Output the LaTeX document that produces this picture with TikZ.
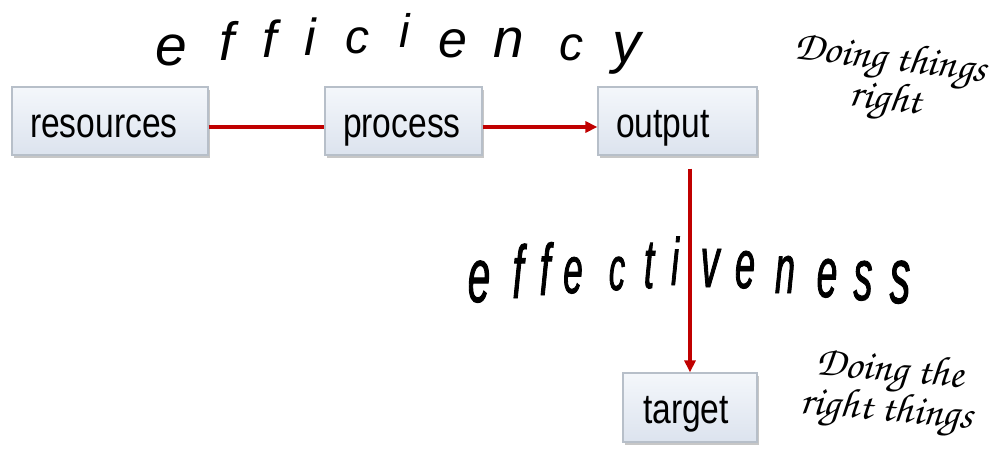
\documentclass[tikz,border=0pt]{standalone}
\usepackage{fontspec}
\setmainfont{Liberation Sans}
\newfontfamily\boxfont[FakeStretch=0.8]{Liberation Sans}
\newfontfamily\effont[FakeStretch=0.52,FakeBold=1.2]{Liberation Sans}
\newfontfamily\efffont{Liberation Sans}
\newfontfamily\chorusfont{TeX Gyre Chorus}
\usetikzlibrary{arrows.meta,shadows}
\definecolor{arrowred}{HTML}{C00000}
\definecolor{boxtop}{HTML}{F4F7FB}
\definecolor{boxbot}{HTML}{DCE3EE}
\definecolor{boxborder}{HTML}{B7BFC9}
\begin{document}
\begin{tikzpicture}[x=1pt,y=-1pt,
  stepbox/.style={draw=boxborder, line width=1.2pt, top color=boxtop, bottom color=boxbot,
    drop shadow={shadow xshift=1.5pt, shadow yshift=-3pt, fill=black, opacity=0.22},
    inner xsep=18pt, inner ysep=0pt, minimum height=68pt, align=left,
    font=\boxfont\fontsize{42}{42}\selectfont, text height=33.6pt, text depth=1.6pt},
  redline/.style={draw=arrowred, line width=3.5pt},
  redarrow/.style={redline, -{Triangle[length=12pt,width=11pt]}},
  effletter/.style={anchor=base, inner sep=0pt},
  saying/.style={align=center, inner sep=0pt}
]
\useasboundingbox (0,0) rectangle (993,448);

% efficiency
\foreach \cx/\by/\sz/\ch [count=\i] in {171/65/57/e, 227/60/54/f, 270/57/52/f, 310/55/52/i, 357/53/48/c, 405/47/47/i, 453/57/52/e, 509/57/55/n, 571/60/48/c, 627/62/57/y}
  \node[effletter, font=\efffont\itshape\fontsize{\sz}{\sz}\selectfont] (ef\i) at (\cx,\by) {\ch};

% effectiveness
\foreach \cx/\by/\sz/\ch [count=\i] in {479/302/77/e, 518/298/75/f, 545/295/73/f, 573/293/67/e, 617/290/62/c, 649/288/70/t, 675/285/67/i, 710/287/72/v, 745/288/69/e, 785/293/69/n, 827/297/71/e, 863/300/73/s, 900/303/79/s}
  \node[effletter, font=\effont\itshape\fontsize{\sz}{\sz}\selectfont] (et\i) at (\cx,\by) {\ch};

% boxes
\node[stepbox, text width=160pt] (res) at (110,121) {resources};
\node[stepbox, text width=121pt] (proc) at (403.5,121) {process};
\node[stepbox, text width=123pt] (out) at (677.5,121) {output};
\node[stepbox, text width=94pt, inner xsep=20pt, minimum height=69pt] (tgt) at (690,407.5) {target};

% connectors
\draw[redline] ([yshift=-6pt]res.east) -- ([yshift=-6pt]proc.west);
\draw[redarrow] ([yshift=-6pt]proc.east) -- ([yshift=-6pt]out.west);
\coordinate (vstart) at ([yshift=-13pt]tgt.north |- out.south);
\draw[redarrow] (vstart) -- (tgt.north);

% sayings
\node[saying, rotate=-7, font=\chorusfont\fontsize{42}{40}\selectfont] (right1) at (888,81) {Doing things\\right};
\node[saying, rotate=-5, font=\chorusfont\fontsize{42}{38}\selectfont] (right2) at (888,392) {Doing the\\right things};
\end{tikzpicture}
\end{document}
